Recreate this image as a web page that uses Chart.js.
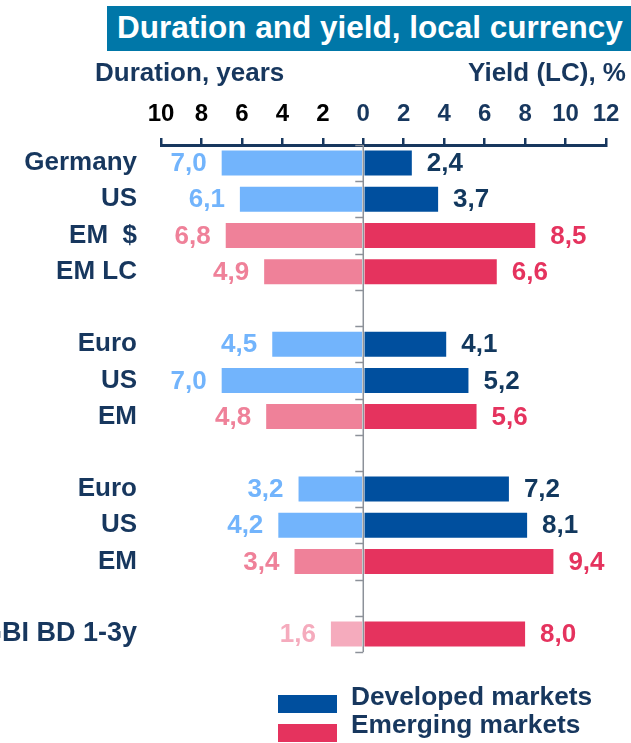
<!DOCTYPE html>
<html>
<head>
<meta charset="utf-8">
<script src="https://cdn.jsdelivr.net/npm/chart.js@4.4.1/dist/chart.umd.min.js"></script>
<style>
  html, body { margin: 0; padding: 0; background: #fff; }
  #wrap { position: relative; width: 631px; height: 743px; overflow: hidden; font-family: "Liberation Sans", Arial, sans-serif; font-weight: bold; }
  #c { position: absolute; left: 0; top: 0; }
  .t { position: absolute; white-space: pre; line-height: 1; }
  #titlebox { position: absolute; left: 107px; top: 6px; width: 524px; height: 45px; background: #0077a8; }
  #title { left: 10px; top: 6px; font-size: 31.5px; color: #fff; }
  .sub { font-size: 26px; color: #17375e; top: 59px; }
  .lg { position: absolute; left: 278px; width: 59px; height: 18px; }
  .lgt { font-size: 26.3px; color: #17375e; left: 351px; }
</style>
</head>
<body>
<div id="wrap">
  <canvas id="c" width="631" height="743"></canvas>
  <div id="titlebox"><div class="t" id="title">Duration and yield, local currency</div></div>
  <div class="t sub" style="left:95px;">Duration, years</div>
  <div class="t sub" style="right:5px;">Yield (LC), %</div>
  <div class="lg" style="top:695px;background:#004f9e;"></div>
  <div class="lg" style="top:724px;background:#e5335e;"></div>
  <div class="t lgt" style="top:683px;">Developed markets</div>
  <div class="t lgt" style="top:711px;">Emerging markets</div>
</div>
<script>
// ---- data ----
const categories = ['Germany', 'US', 'EM  $', 'EM LC', '', 'Euro', 'US', 'EM', '', 'Euro', 'US', 'EM', '', 'GBI BD 1-3y'];
const durationYears = [7.0, 6.1, 6.8, 4.9, null, 4.5, 7.0, 4.8, null, 3.2, 4.2, 3.4, null, 1.6];
const yieldLC = [2.4, 3.7, 8.5, 6.6, null, 4.1, 5.2, 5.6, null, 7.2, 8.1, 9.4, null, 8.0];
const marketType = ['DM', 'DM', 'EM', 'EM', null, 'DM', 'DM', 'EM', null, 'DM', 'DM', 'EM', null, 'EMS'];
const xTicks = [-10, -8, -6, -4, -2, 0, 2, 4, 6, 8, 10, 12];

// ---- styles ----
const NAVY = '#17375e';
const durColors = { DM: '#72b4fc', EM: '#ef8199', EMS: '#f5abbd' };
const yldColors = { DM: '#004f9e', EM: '#e5335e', EMS: '#e5335e' };
const yldLabelColors = { DM: '#12385e', EM: '#e5335e', EMS: '#e5335e' };
const FONT = '"Liberation Sans", Arial, sans-serif';

const fmt = v => v.toFixed(1).replace('.', ',');

const overlay = {
  id: 'overlay',
  afterDatasetsDraw(chart) {
    const ctx = chart.ctx;
    const xs = chart.scales.x, ys = chart.scales.y;
    const area = chart.chartArea;
    const x0 = xs.getPixelForValue(0);
    ctx.save();
    // zero line
    ctx.strokeStyle = '#8c9199';
    ctx.lineWidth = 1.5;
    ctx.beginPath();
    ctx.moveTo(x0, area.top);
    ctx.lineTo(x0, area.bottom);
    ctx.stroke();
    // category boundary ticks
    for (let i = 0; i <= categories.length; i++) {
      const y = Math.round(ys.getPixelForValue(i - 0.5)) + 0.5;
      ctx.beginPath();
      ctx.moveTo(x0 - 8, y);
      ctx.lineTo(x0, y);
      ctx.stroke();
    }
    // value labels
    ctx.font = 'bold 26px ' + FONT;
    ctx.textBaseline = 'middle';
    chart.getDatasetMeta(0).data.forEach((el, i) => {
      if (durationYears[i] == null) return;
      ctx.fillStyle = durColors[marketType[i]];
      ctx.textAlign = 'right';
      ctx.fillText(fmt(durationYears[i]), el.x - 15, el.y + 1);
    });
    chart.getDatasetMeta(1).data.forEach((el, i) => {
      if (yieldLC[i] == null) return;
      ctx.fillStyle = yldLabelColors[marketType[i]];
      ctx.textAlign = 'left';
      ctx.fillText(fmt(yieldLC[i]), el.x + 15, el.y + 1);
    });
    ctx.restore();
  }
};

new Chart(document.getElementById('c'), {
  type: 'bar',
  data: {
    labels: categories,
    datasets: [
      {
        label: 'Duration, years',
        data: durationYears.map(v => v == null ? null : -v),
        backgroundColor: marketType.map(m => m ? durColors[m] : 'transparent'),
        borderWidth: 0,
        barPercentage: 0.69,
        categoryPercentage: 1
      },
      {
        label: 'Yield (LC), %',
        data: yieldLC,
        backgroundColor: marketType.map(m => m ? yldColors[m] : 'transparent'),
        borderWidth: 0,
        barPercentage: 0.69,
        categoryPercentage: 1
      }
    ]
  },
  options: {
    indexAxis: 'y',
    responsive: false,
    animation: false,
    events: [],
    layout: { padding: { top: 95, bottom: 91, right: 25, left: 0 } },
    plugins: { legend: { display: false }, title: { display: false }, tooltip: { enabled: false } },
    scales: {
      x: {
        type: 'linear',
        position: 'top',
        stacked: true,
        min: -10,
        max: 12,
        afterBuildTicks: s => { s.ticks = xTicks.map(v => ({ value: v })); },
        afterFit: s => { s.height = 50; },
        ticks: {
          padding: 9,
          maxRotation: 0,
          autoSkip: false,
          font: { family: FONT, size: 24, weight: 'bold' },
          color: c => (c.tick && c.tick.value < 0) ? '#000000' : NAVY,
          callback: v => String(Math.abs(v))
        },
        grid: { drawOnChartArea: false, drawTicks: true, tickLength: 7, color: NAVY, lineWidth: 2.5 },
        border: { display: true, color: NAVY, width: 3 }
      },
      y: {
        stacked: true,
        afterFit: s => { s.width = 161; },
        ticks: {
          padding: 24,
          autoSkip: false,
          font: c => ({ family: FONT, size: (c.index === categories.length - 1) ? 27 : 26, weight: 'bold' }),
          color: NAVY
        },
        grid: { display: false, drawTicks: false },
        border: { display: false }
      }
    }
  },
  plugins: [overlay]
});
</script>
</body>
</html>
